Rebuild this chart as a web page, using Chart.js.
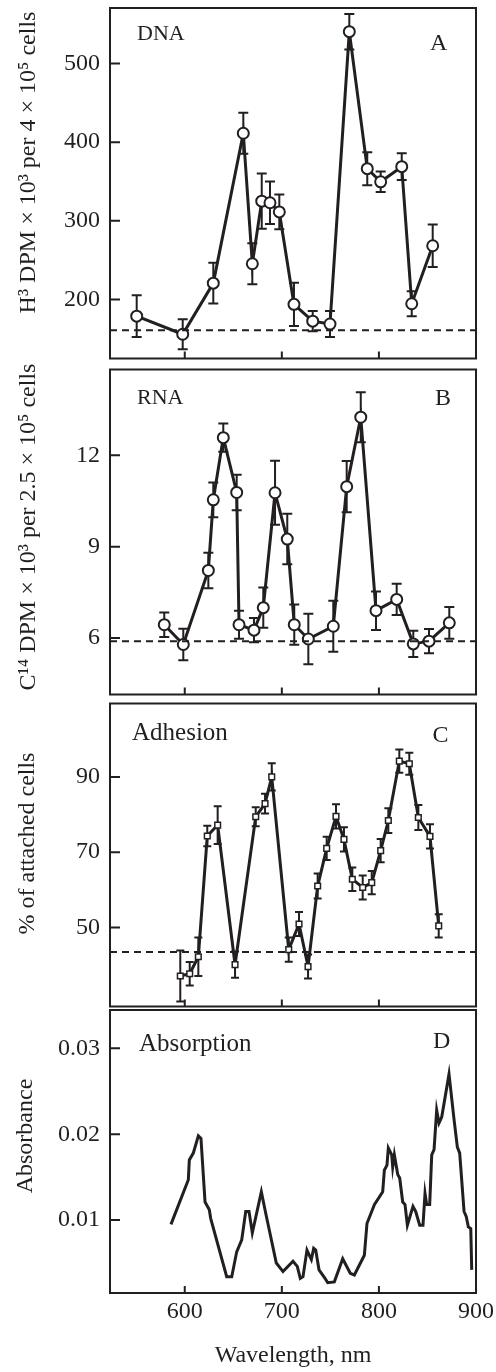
<!DOCTYPE html>
<html><head><meta charset="utf-8">
<script src="https://cdn.jsdelivr.net/npm/chart.js@4.4.0/dist/chart.umd.min.js"></script>
<style>
html,body{margin:0;padding:0;background:#fff;}
#wrap{position:relative;width:496px;height:1372px;overflow:hidden;background:#fff;}
#wrap canvas{position:absolute;left:0;}
</style></head><body>
<div id="wrap">
<canvas id="cA" width="496" height="366" style="top:0px"></canvas>
<canvas id="cB" width="496" height="340" style="top:362px"></canvas>
<canvas id="cC" width="496" height="314" style="top:698px"></canvas>
<canvas id="cD" width="496" height="364" style="top:1008px"></canvas>
</div>
<script>
// ---------- data ----------
const wavelengthTicks = [600, 700, 800, 900];
const wavelengthTickLabels = ['600', '700', '800', '900'];

// Panel A: DNA
const dnaWavelength = [550.5, 597.9, 629.4, 660.3, 669.6, 679.3, 687.8, 697.4, 712.5, 731.8, 749.6, 769.5, 788.0, 801.8, 823.5, 833.8, 855.4];
const dnaValue = [178.8, 155.8, 220.8, 411.3, 245.4, 325.0, 323.0, 311.3, 193.8, 172.5, 168.8, 540.4, 366.3, 349.6, 368.8, 194.6, 268.3];
const dnaError = [26.5, 19, 26, 26, 26, 35, 27, 22, 27.5, 13, 16.5, 22.5, 21, 13, 17, 16, 27];
const dnaBaseline = 161;
const dnaTicks = [200, 300, 400, 500];
const dnaTickLabels = ['200', '300', '400', '500'];

// Panel B: RNA
const rnaWavelength = [578.9, 598.5, 624.3, 629.4, 639.7, 653.5, 655.9, 671.3, 680.9, 693.0, 705.6, 712.8, 727.3, 753.0, 766.8, 781.3, 797.0, 818.3, 835.4, 851.6, 872.5];
const rnaValue = [6.44, 5.79, 8.22, 10.54, 12.58, 10.78, 6.44, 6.26, 7.0, 10.77, 9.25, 6.44, 5.97, 6.39, 10.97, 13.25, 6.9, 7.27, 5.81, 5.9, 6.5];
const rnaError = [0.4, 0.52, 0.58, 0.57, 0.46, 0.58, 0.46, 0.4, 0.66, 1.05, 0.83, 0.66, 0.83, 0.84, 0.84, 0.82, 0.63, 0.51, 0.43, 0.4, 0.52];
const rnaBaseline = 5.9;
const rnaTicks = [6, 9, 12];
const rnaTickLabels = ['6', '9', '12'];

// Panel C: Adhesion
const adhWavelength = [595.4, 605.1, 614.0, 623.2, 633.9, 651.8, 673.1, 682.7, 689.6, 707.1, 717.7, 727.0, 736.9, 746.2, 755.8, 764.0, 772.6, 783.3, 792.6, 801.8, 809.7, 821.0, 831.3, 840.6, 852.6, 861.6];
const adhValue = [37.1, 37.7, 42.2, 74.3, 77.2, 40.1, 79.4, 82.9, 90.0, 44.1, 50.9, 39.6, 61.0, 71.0, 79.5, 73.4, 62.8, 60.6, 61.9, 70.4, 78.4, 94.2, 93.5, 79.2, 74.2, 50.4];
const adhError = [6.8, 3.1, 5.1, 2.7, 5.0, 3.5, 2.5, 2.6, 3.6, 3.2, 3.2, 3.2, 3.3, 3.1, 3.2, 3.2, 3.1, 3.2, 3.1, 3.1, 3.3, 3.1, 2.9, 3.3, 3.2, 3.1];
const adhBaseline = 43.5;
const adhTicks = [50, 70, 90];
const adhTickLabels = ['50', '70', '90'];

// Panel D: Absorption
const absWavelength = [585.8, 603.7, 604.7, 608.8, 614.0, 616.7, 620.9, 625.3, 626.7, 643.2, 648.4, 653.5, 658.7, 662.8, 666.2, 669.6, 678.9, 683.4, 694.3, 701.2, 711.5, 715.9, 719.0, 721.8, 725.9, 730.4, 732.8, 734.9, 738.3, 744.5, 747.3, 754.1, 762.7, 770.5, 774.7, 785.0, 787.7, 795.3, 803.9, 805.6, 808.3, 809.7, 813.2, 814.2, 815.9, 819.4, 821.4, 824.5, 826.9, 829.3, 835.1, 837.9, 842.0, 845.4, 847.5, 849.2, 852.3, 854.4, 856.8, 859.5, 861.9, 864.7, 872.2, 877.4, 880.8, 883.2, 887.7, 890.0, 892.1, 894.6, 895.6];
const absValue = [0.0095, 0.0147, 0.0170, 0.0178, 0.0198, 0.0195, 0.0121, 0.0112, 0.0102, 0.0034, 0.0034, 0.0063, 0.0077, 0.0110, 0.0110, 0.0085, 0.0133, 0.0108, 0.0050, 0.0040, 0.0052, 0.0046, 0.0032, 0.0034, 0.0065, 0.0054, 0.0067, 0.0065, 0.0042, 0.0032, 0.0027, 0.0028, 0.0055, 0.0038, 0.0036, 0.0059, 0.0096, 0.0118, 0.0133, 0.0158, 0.0164, 0.0184, 0.0176, 0.0162, 0.0176, 0.0153, 0.0149, 0.0121, 0.0118, 0.0094, 0.0116, 0.0110, 0.0094, 0.0094, 0.0131, 0.0118, 0.0118, 0.0176, 0.0182, 0.0228, 0.0213, 0.0220, 0.0270, 0.0217, 0.0185, 0.0178, 0.0110, 0.0104, 0.0092, 0.0090, 0.0042];
const absTicks = [0.01, 0.02, 0.03];
const absTickLabels = ['0.01', '0.02', '0.03'];

// texts
const titleA = 'H³ DPM × 10³ per 4 × 10⁵ cells';
const titleB = 'C¹⁴ DPM × 10³ per 2.5 × 10⁵ cells';
const titleC = '% of attached cells';
const titleD = 'Absorbance';
const xTitle = 'Wavelength, nm';

// ---------- style ----------
const INK = '#231f20';
const FONT = "'Liberation Serif', 'Times New Roman', Times, serif";
Chart.defaults.font.family = FONT;
Chart.defaults.color = INK;

function pts(xs, ys) { return xs.map((x, i) => ({ x: x, y: ys[i] })); }

function errorBarsPlugin(xs, ys, errs, cap) {
  return {
    id: 'errorBars',
    beforeDatasetsDraw(chart) {
      const { ctx, scales: { x, y } } = chart;
      ctx.save();
      ctx.strokeStyle = INK; ctx.lineWidth = 2;
      xs.forEach((xv, i) => {
        const px = x.getPixelForValue(xv);
        const t = y.getPixelForValue(ys[i] + errs[i]);
        const b = y.getPixelForValue(ys[i] - errs[i]);
        ctx.beginPath();
        ctx.moveTo(px, t); ctx.lineTo(px, b);
        ctx.moveTo(px - cap, t); ctx.lineTo(px + cap, t);
        ctx.moveTo(px - cap, b); ctx.lineTo(px + cap, b);
        ctx.stroke();
      });
      ctx.restore();
    }
  };
}

function framePlugin(yTicks) {
  return {
    id: 'frame',
    afterDraw(chart) {
      const { ctx, chartArea: a, scales: { x, y } } = chart;
      ctx.save();
      ctx.strokeStyle = INK; ctx.lineWidth = 2;
      ctx.beginPath();
      yTicks.forEach(v => {
        const py = y.getPixelForValue(v);
        ctx.moveTo(a.left, py); ctx.lineTo(a.left + 10, py);
      });
      wavelengthTicks.forEach(v => {
        const px = x.getPixelForValue(v);
        if (px < a.right - 2) { ctx.moveTo(px, a.bottom); ctx.lineTo(px, a.bottom - 7); }
      });
      ctx.stroke();
      ctx.strokeRect(a.left, a.top, a.right - a.left, a.bottom - a.top);
      ctx.restore();
    }
  };
}

// items: page coordinates; converted to canvas coordinates using canvasTop
function textPlugin(canvasTop, items) {
  return {
    id: 'panelText',
    afterDraw(chart) {
      const ctx = chart.ctx;
      ctx.save();
      ctx.fillStyle = INK;
      items.forEach(it => {
        ctx.font = it.size + 'px ' + FONT;
        if (it.rotate) {
          ctx.save();
          ctx.translate(it.x, it.y - canvasTop);
          ctx.rotate(-Math.PI / 2);
          ctx.textAlign = 'center'; ctx.textBaseline = 'alphabetic';
          ctx.fillText(it.text, 0, 0);
          ctx.restore();
        } else {
          ctx.textAlign = 'left'; ctx.textBaseline = 'alphabetic';
          ctx.fillText(it.text, it.x, it.y - canvasTop);
        }
      });
      ctx.restore();
    }
  };
}

function makePanel(o) {
  const datasets = [];
  if (o.baseline !== undefined) {
    datasets.push({
      data: [{ x: 523, y: o.baseline }, { x: 900, y: o.baseline }],
      borderColor: INK, borderWidth: 2, borderDash: [7, 5], pointRadius: 0, fill: false
    });
  }
  datasets.push({
    data: pts(o.xs, o.ys),
    borderColor: INK, borderWidth: 3, tension: 0, fill: false,
    pointRadius: o.pointRadius, pointStyle: o.pointStyle,
    pointBackgroundColor: '#fff', pointBorderColor: INK, pointBorderWidth: o.pointBorder
  });
  const plugins = [];
  if (o.errs) plugins.push(errorBarsPlugin(o.xs, o.ys, o.errs, o.cap));
  plugins.push(framePlugin(o.yTicks));
  plugins.push(textPlugin(o.canvasTop, o.texts));
  return new Chart(document.getElementById(o.id), {
    type: 'line',
    data: { datasets },
    options: {
      responsive: false, animation: false, devicePixelRatio: 1,
      layout: { padding: { top: o.padTop, bottom: o.padBottom, left: 0, right: 20 } },
      plugins: { legend: { display: false }, tooltip: { enabled: false } },
      scales: {
        x: {
          type: 'linear', min: 523, max: 900, display: !!o.showX,
          afterBuildTicks: s => { s.ticks = wavelengthTicks.map(v => ({ value: v })); },
          afterFit: s => {
            if (o.showX) s.height = 79;
            s.paddingLeft = 0; s.paddingRight = 0; s.paddingTop = 0; s.paddingBottom = 0;
          },
          grid: { display: false, drawTicks: false }, border: { display: false },
          ticks: {
            font: { size: 24 }, color: INK, padding: 4, maxRotation: 0, autoSkip: false,
            callback: v => wavelengthTickLabels[wavelengthTicks.indexOf(v)]
          },
          title: { display: !!o.showX, text: xTitle, font: { size: 24 }, color: INK, padding: { top: 0, bottom: 2 } }
        },
        y: {
          type: 'linear', min: o.yMin, max: o.yMax,
          afterBuildTicks: s => { s.ticks = o.yTicks.map(v => ({ value: v })); },
          afterFit: s => {
            s.width = 110;
            s.paddingLeft = 0; s.paddingRight = 0; s.paddingTop = 0; s.paddingBottom = 0;
          },
          grid: { display: false, drawTicks: false }, border: { display: false },
          ticks: {
            font: { size: 24 }, color: INK, padding: 10,
            callback: v => o.yTickLabels[o.yTicks.indexOf(v)]
          }
        }
      }
    },
    plugins
  });
}

makePanel({
  id: 'cA', canvasTop: 0, padTop: 8, padBottom: 2, yMin: 125, yMax: 570.5,
  xs: dnaWavelength, ys: dnaValue, errs: dnaError, cap: 5, baseline: dnaBaseline,
  yTicks: dnaTicks, yTickLabels: dnaTickLabels,
  pointRadius: 5.5, pointStyle: 'circle', pointBorder: 2,
  texts: [
    { text: titleA, x: 35, y: 162.5, size: 24, rotate: true },
    { text: 'DNA', x: 137, y: 40, size: 22 },
    { text: 'A', x: 430, y: 50, size: 24 }
  ]
});
makePanel({
  id: 'cB', canvasTop: 362, padTop: 2, padBottom: 2, yMin: 4.149, yMax: 14.816,
  xs: rnaWavelength, ys: rnaValue, errs: rnaError, cap: 5, baseline: rnaBaseline,
  yTicks: rnaTicks, yTickLabels: rnaTickLabels,
  pointRadius: 5.5, pointStyle: 'circle', pointBorder: 2,
  texts: [
    { text: titleB, x: 35, y: 527, size: 24, rotate: true },
    { text: 'RNA', x: 137, y: 403.5, size: 22 },
    { text: 'B', x: 435, y: 405, size: 24 }
  ]
});
makePanel({
  id: 'cC', canvasTop: 698, padTop: 2, padBottom: 2, yMin: 28.99, yMax: 109.5,
  xs: adhWavelength, ys: adhValue, errs: adhError, cap: 4, baseline: adhBaseline,
  yTicks: adhTicks, yTickLabels: adhTickLabels,
  pointRadius: 4, pointStyle: 'rect', pointBorder: 1.5,
  texts: [
    { text: titleC, x: 33.5, y: 843.5, size: 24, rotate: true },
    { text: 'Adhesion', x: 132, y: 740, size: 25 },
    { text: 'C', x: 432.5, y: 741.5, size: 24 }
  ]
});
makePanel({
  id: 'cD', canvasTop: 1008, padTop: 2, padBottom: 0, yMin: 0.001503, yMax: 0.03447,
  xs: absWavelength, ys: absValue, showX: true,
  yTicks: absTicks, yTickLabels: absTickLabels,
  pointRadius: 0, pointStyle: 'circle', pointBorder: 0,
  texts: [
    { text: titleD, x: 32, y: 1136, size: 24, rotate: true },
    { text: 'Absorption', x: 139, y: 1050.5, size: 25 },
    { text: 'D', x: 433, y: 1048, size: 24 }
  ]
});
</script>
</body></html>
